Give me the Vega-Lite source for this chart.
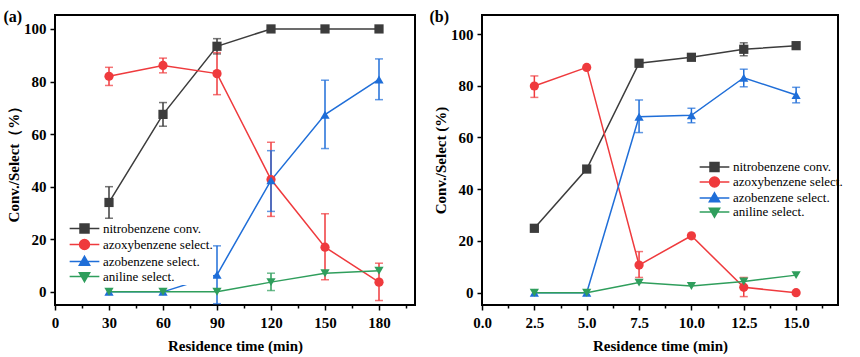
{
  "$schema": "https://vega.github.io/schema/vega-lite/v6.json",
  "padding": {"left": 2, "top": 8, "right": 4, "bottom": 3},
  "spacing": 12,
  "datasets": {
    "a": [
      {"t": 30, "s": "nitrobenzene conv.", "v": 34, "lo": 28, "hi": 40},
      {"t": 60, "s": "nitrobenzene conv.", "v": 67.5, "lo": 63, "hi": 72},
      {"t": 90, "s": "nitrobenzene conv.", "v": 93.4, "lo": 90.5, "hi": 96.3},
      {"t": 120, "s": "nitrobenzene conv.", "v": 100},
      {"t": 150, "s": "nitrobenzene conv.", "v": 100},
      {"t": 180, "s": "nitrobenzene conv.", "v": 100},
      {"t": 30, "s": "azoxybenzene select.", "v": 82, "lo": 78.5, "hi": 85.4},
      {"t": 60, "s": "azoxybenzene select.", "v": 86.1, "lo": 83.3, "hi": 88.9},
      {"t": 90, "s": "azoxybenzene select.", "v": 83, "lo": 75, "hi": 91},
      {"t": 120, "s": "azoxybenzene select.", "v": 42.7, "lo": 28.7, "hi": 56.9},
      {"t": 150, "s": "azoxybenzene select.", "v": 17, "lo": 4.6, "hi": 29.7},
      {"t": 180, "s": "azoxybenzene select.", "v": 3.7, "lo": -3.3, "hi": 10.9},
      {"t": 30, "s": "azobenzene select.", "v": 0},
      {"t": 60, "s": "azobenzene select.", "v": 0},
      {"t": 90, "s": "azobenzene select.", "v": 6.5, "lo": -4.5, "hi": 17.5},
      {"t": 120, "s": "azobenzene select.", "v": 42.4, "lo": 30.6, "hi": 53.7},
      {"t": 150, "s": "azobenzene select.", "v": 67.4, "lo": 54.5, "hi": 80.5},
      {"t": 180, "s": "azobenzene select.", "v": 80.8, "lo": 73.1, "hi": 88.6},
      {"t": 30, "s": "aniline select.", "v": 0},
      {"t": 60, "s": "aniline select.", "v": 0},
      {"t": 90, "s": "aniline select.", "v": 0},
      {"t": 120, "s": "aniline select.", "v": 3.7, "lo": 0.5, "hi": 7.1},
      {"t": 150, "s": "aniline select.", "v": 7.1},
      {"t": 180, "s": "aniline select.", "v": 8}
    ],
    "b": [
      {"t": 2.5, "s": "nitrobenzene conv.", "v": 24.9},
      {"t": 5, "s": "nitrobenzene conv.", "v": 47.8},
      {"t": 7.5, "s": "nitrobenzene conv.", "v": 88.7, "lo": 87.4, "hi": 89.6},
      {"t": 10, "s": "nitrobenzene conv.", "v": 91},
      {"t": 12.5, "s": "nitrobenzene conv.", "v": 94.1, "lo": 91.6, "hi": 96.6},
      {"t": 15, "s": "nitrobenzene conv.", "v": 95.5},
      {"t": 2.5, "s": "azoxybenzene select.", "v": 79.9, "lo": 75.5, "hi": 83.8},
      {"t": 5, "s": "azoxybenzene select.", "v": 87.1},
      {"t": 7.5, "s": "azoxybenzene select.", "v": 10.7, "lo": 5.9, "hi": 15.9},
      {"t": 10, "s": "azoxybenzene select.", "v": 22},
      {"t": 12.5, "s": "azoxybenzene select.", "v": 2.1, "lo": -1.5, "hi": 5.9},
      {"t": 15, "s": "azoxybenzene select.", "v": 0},
      {"t": 2.5, "s": "azobenzene select.", "v": 0},
      {"t": 5, "s": "azobenzene select.", "v": 0},
      {"t": 7.5, "s": "azobenzene select.", "v": 68, "lo": 61.9, "hi": 74.5},
      {"t": 10, "s": "azobenzene select.", "v": 68.6, "lo": 65.7, "hi": 71.3},
      {"t": 12.5, "s": "azobenzene select.", "v": 83.1, "lo": 79.6, "hi": 86.4},
      {"t": 15, "s": "azobenzene select.", "v": 76.4, "lo": 73.4, "hi": 79.4},
      {"t": 2.5, "s": "aniline select.", "v": 0},
      {"t": 5, "s": "aniline select.", "v": 0},
      {"t": 7.5, "s": "aniline select.", "v": 3.9},
      {"t": 10, "s": "aniline select.", "v": 2.6},
      {"t": 12.5, "s": "aniline select.", "v": 4.3},
      {"t": 15, "s": "aniline select.", "v": 6.8}
    ]
  },
  "hconcat": [
    {
      "width": 360,
      "height": 290,
      "data": {"name": "a"},
      "title": {"text": "(a)", "anchor": "start", "frame": "bounds", "offset": -10, "dx": -3},
      "encoding": {
        "x": {
          "field": "t", "type": "quantitative",
          "scale": {"domain": [0, 200], "nice": false, "zero": false},
          "axis": {
            "title": "Residence time (min)",
            "values": [0, 15, 30, 45, 60, 75, 90, 105, 120, 135, 150, 165, 180, 195],
            "labelExpr": "datum.value % 30 === 0 ? datum.label : ''",
            "tickSize": {"condition": {"test": "datum.value % 30 === 0", "value": 5}, "value": 3},
            "labelPadding": 5, "titlePadding": 8, "labelFlush": false
          }
        },
        "color": {
          "field": "s", "type": "nominal",
          "scale": {"domain": ["nitrobenzene conv.", "azoxybenzene select.", "azobenzene select.", "aniline select."], "range": ["#3c3c3c", "#ef3a3d", "#1f6ed8", "#2f9e5c"]},
          "legend": {
            "orient": "none", "legendX": 23, "legendY": 207, "fillColor": "white", "rowPadding": 0, "padding": 0,
            "encode": {"symbols": {"update": {
              "shape": {"signal": "datum.value === 'nitrobenzene conv.' ? 'M-3.3,0H3.3M-1,-1H1V1H-1Z' : datum.value === 'azoxybenzene select.' ? 'M-3.3,0H3.3M-1.1,0A1.1,1.1,0,1,1,1.1,0A1.1,1.1,0,1,1,-1.1,0Z' : datum.value === 'azobenzene select.' ? 'M-3.3,0H3.3M0,-1.15L1.15,0.85H-1.15Z' : 'M-3.3,0H3.3M0,1.15L1.15,-0.85H-1.15Z'"},
              "fill": {"signal": "datum.value === 'nitrobenzene conv.' ? '#3c3c3c' : datum.value === 'azoxybenzene select.' ? '#ef3a3d' : datum.value === 'azobenzene select.' ? '#1f6ed8' : '#2f9e5c'"},
              "stroke": {"signal": "datum.value === 'nitrobenzene conv.' ? '#3c3c3c' : datum.value === 'azoxybenzene select.' ? '#ef3a3d' : datum.value === 'azobenzene select.' ? '#1f6ed8' : '#2f9e5c'"},
              "strokeWidth": {"value": 1.5},
              "opacity": {"value": 1}
            }}}
          }
        }
      },
      "layer": [
        {
          "mark": {"type": "line", "strokeWidth": 1.5},
          "encoding": {
            "y": {
              "field": "v", "type": "quantitative",
              "scale": {"domain": [-5, 105.3], "nice": false, "zero": false},
              "axis": {
                "title": "Conv./Select（%）",
                "values": [0, 10, 20, 30, 40, 50, 60, 70, 80, 90, 100],
                "labelExpr": "datum.value % 20 === 0 ? datum.label : ''",
                "tickSize": {"condition": {"test": "datum.value % 20 === 0", "value": 5}, "value": 3},
                "labelPadding": 4, "titlePadding": 2, "labelFlush": false
              }
            }
          }
        },
        {
          "mark": {"type": "rule", "strokeWidth": 1.5},
          "encoding": {
            "y": {"field": "lo", "type": "quantitative", "title": "Conv./Select（%）"},
            "y2": {"field": "hi"}
          }
        },
        {
          "mark": {"type": "tick", "orient": "horizontal", "size": 8, "thickness": 1.5},
          "encoding": {
            "y": {"field": "lo", "type": "quantitative", "title": "Conv./Select（%）"}
          }
        },
        {
          "mark": {"type": "tick", "orient": "horizontal", "size": 8, "thickness": 1.5},
          "encoding": {
            "y": {"field": "hi", "type": "quantitative", "title": "Conv./Select（%）"}
          }
        },
        {
          "mark": {"type": "point", "filled": true, "size": 85, "opacity": 1},
          "encoding": {
            "y": {"field": "v", "type": "quantitative", "title": "Conv./Select（%）"},
            "shape": {"field": "s", "type": "nominal", "legend": null, "scale": {"domain": ["aniline select.", "azobenzene select.", "azoxybenzene select.", "nitrobenzene conv."], "range": ["triangle-down", "triangle-up", "circle", "square"]}}
          }
        }
      ]
    },
    {
      "width": 356,
      "height": 290,
      "data": {"name": "b"},
      "title": {"text": "(b)", "anchor": "start", "frame": "bounds", "offset": -10, "dx": -4},
      "encoding": {
        "x": {
          "field": "t", "type": "quantitative",
          "scale": {"domain": [0, 17], "nice": false, "zero": false},
          "axis": {
            "title": "Residence time (min)",
            "values": [0, 1.25, 2.5, 3.75, 5, 6.25, 7.5, 8.75, 10, 11.25, 12.5, 13.75, 15, 16.25],
            "labelExpr": "datum.value % 2.5 === 0 ? format(datum.value, '.1f') : ''",
            "tickSize": {"condition": {"test": "datum.value % 2.5 === 0", "value": 5}, "value": 3},
            "labelPadding": 5, "titlePadding": 8, "labelFlush": false
          }
        },
        "color": {
          "field": "s", "type": "nominal",
          "scale": {"domain": ["nitrobenzene conv.", "azoxybenzene select.", "azobenzene select.", "aniline select."], "range": ["#3c3c3c", "#ef3a3d", "#1f6ed8", "#2f9e5c"]},
          "legend": {
            "orient": "none", "legendX": 224, "legendY": 143.5, "rowPadding": -1, "padding": 2,
            "encode": {"symbols": {"update": {
              "shape": {"signal": "datum.value === 'nitrobenzene conv.' ? 'M-3.3,0H3.3M-1,-1H1V1H-1Z' : datum.value === 'azoxybenzene select.' ? 'M-3.3,0H3.3M-1.1,0A1.1,1.1,0,1,1,1.1,0A1.1,1.1,0,1,1,-1.1,0Z' : datum.value === 'azobenzene select.' ? 'M-3.3,0H3.3M0,-1.15L1.15,0.85H-1.15Z' : 'M-3.3,0H3.3M0,1.15L1.15,-0.85H-1.15Z'"},
              "fill": {"signal": "datum.value === 'nitrobenzene conv.' ? '#3c3c3c' : datum.value === 'azoxybenzene select.' ? '#ef3a3d' : datum.value === 'azobenzene select.' ? '#1f6ed8' : '#2f9e5c'"},
              "stroke": {"signal": "datum.value === 'nitrobenzene conv.' ? '#3c3c3c' : datum.value === 'azoxybenzene select.' ? '#ef3a3d' : datum.value === 'azobenzene select.' ? '#1f6ed8' : '#2f9e5c'"},
              "strokeWidth": {"value": 1.5},
              "opacity": {"value": 1}
            }}}
          }
        }
      },
      "layer": [
        {
          "mark": {"type": "line", "strokeWidth": 1.5},
          "encoding": {
            "y": {
              "field": "v", "type": "quantitative",
              "scale": {"domain": [-4.75, 107.35], "nice": false, "zero": false},
              "axis": {
                "title": "Conv./Select (%)",
                "values": [0, 10, 20, 30, 40, 50, 60, 70, 80, 90, 100],
                "labelExpr": "datum.value % 20 === 0 ? datum.label : ''",
                "tickSize": {"condition": {"test": "datum.value % 20 === 0", "value": 5}, "value": 3},
                "labelPadding": 4, "titlePadding": 2, "labelFlush": false
              }
            }
          }
        },
        {
          "mark": {"type": "rule", "strokeWidth": 1.5},
          "encoding": {
            "y": {"field": "lo", "type": "quantitative", "title": "Conv./Select (%)"},
            "y2": {"field": "hi"}
          }
        },
        {
          "mark": {"type": "tick", "orient": "horizontal", "size": 8, "thickness": 1.5},
          "encoding": {
            "y": {"field": "lo", "type": "quantitative", "title": "Conv./Select (%)"}
          }
        },
        {
          "mark": {"type": "tick", "orient": "horizontal", "size": 8, "thickness": 1.5},
          "encoding": {
            "y": {"field": "hi", "type": "quantitative", "title": "Conv./Select (%)"}
          }
        },
        {
          "mark": {"type": "point", "filled": true, "size": 85, "opacity": 1},
          "encoding": {
            "y": {"field": "v", "type": "quantitative", "title": "Conv./Select (%)"},
            "shape": {"field": "s", "type": "nominal", "legend": null, "scale": {"domain": ["aniline select.", "azobenzene select.", "azoxybenzene select.", "nitrobenzene conv."], "range": ["triangle-down", "triangle-up", "circle", "square"]}}
          }
        }
      ]
    }
  ],
  "resolve": {"scale": {"color": "independent", "shape": "independent"}},
  "config": {
    "view": {"stroke": "black", "strokeWidth": 2},
    "axis": {
      "grid": false, "domain": false,
      "labelFont": "Liberation Serif, Times New Roman, serif", "labelFontWeight": "bold", "labelFontSize": 15, "labelColor": "black",
      "titleFont": "Liberation Serif, Times New Roman, serif", "titleFontWeight": "bold", "titleFontSize": 15, "titleColor": "black",
      "tickColor": "black", "tickWidth": 1.5
    },
    "legend": {
      "title": null, "labelFont": "Liberation Serif, Times New Roman, serif", "labelFontSize": 13, "labelColor": "black",
      "symbolSize": 81, "labelOffset": 12
    },
    "title": {"font": "Liberation Serif, Times New Roman, serif", "fontWeight": "bold", "fontSize": 16, "color": "black"}
  }
}
